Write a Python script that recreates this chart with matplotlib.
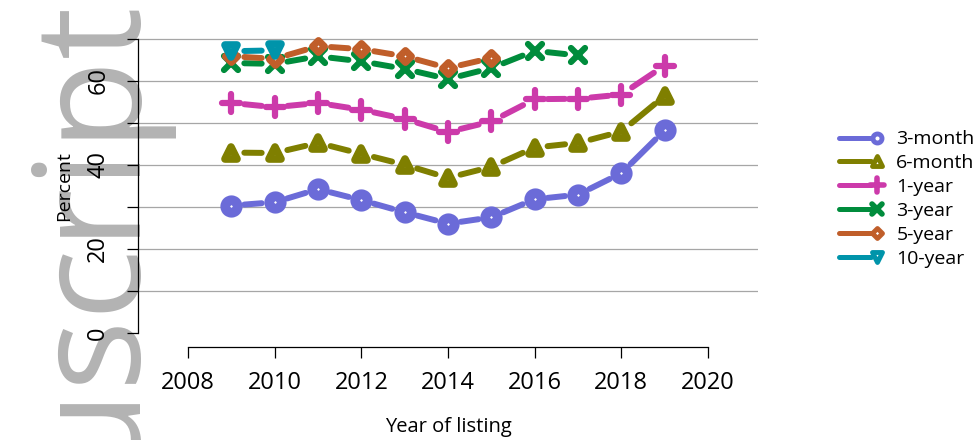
import numpy as np
import matplotlib
matplotlib.use("Agg")
import matplotlib.pyplot as plt
from matplotlib.lines import Line2D
from matplotlib.markers import MarkerStyle
from matplotlib.legend_handler import HandlerBase

plt.rcParams['font.family'] = ['Open Sans', 'DejaVu Sans']

# data (percent)
years = [2009, 2010, 2011, 2012, 2013, 2014, 2015, 2016, 2017, 2018, 2019]
m3 = [30.3, 31.1, 34.2, 31.6, 28.7, 26.0, 27.5, 31.8, 32.9, 38.0, 48.2]
m6 = [42.9, 42.8, 45.2, 42.6, 40.0, 36.9, 39.5, 44.1, 45.2, 47.9, 56.4]
y1 = [54.7, 53.7, 54.7, 53.1, 50.9, 47.8, 50.3, 55.6, 55.7, 56.7, 63.6]
y3 = [64.2, 64.0, 65.8, 64.6, 62.8, 60.4, 63.0, 67.1, 66.0]
y5 = [65.8, 65.2, 68.2, 67.5, 65.8, 63.0, 65.4]
y10 = [67.0, 67.2]
labels = ['3-month', '6-month', '1-year', '3-year', '5-year', '10-year']

series = [m3, m6, y1, y3, y5, y10]
colors = ['#6b6bd8', '#7f7f00', '#cc3aaa', '#008c3c', '#c05e2a', '#0094aa']
markers = ['o', '^', '+', 'x', 'D', 'v']
msizes = [9, 8, 13, 10, 6.5, 8]
mews = [7, 5.5, 4.5, 4.5, 5, 5.5]
leg_ms = [6.5, 6.5, 10, 7.5, 5.5, 6.5]
leg_mew = [3.5, 3.5, 4, 4, 3.5, 3.5]

W, H = 979, 440
fig = plt.figure(figsize=(W / 100, H / 100), dpi=100)

# watermark, behind everything
fig.text(127 / W, 1 + 9 / H, 'Manuscript', rotation=90, rotation_mode='anchor',
         ha='right', va='baseline', fontsize=107, color='#b3b3b3', zorder=-1)

ax = fig.add_axes([138 / W, (H - 347) / H, 620 / W, (347 - 26) / H])
ax.patch.set_alpha(0)
ax.set_xlim(2008 - 50 / 43.333, 2020 + 50 / 43.333)
ax.set_ylim(-3.33, 73)

for v in range(10, 80, 10):
    ax.axhline(v, color='#a6a6a6', lw=0.9, zorder=1)

for s in ['top', 'right']:
    ax.spines[s].set_visible(False)
ax.spines['left'].set_bounds(0, 70)
ax.spines['bottom'].set_bounds(2008, 2020)
for s in ['left', 'bottom']:
    ax.spines[s].set_linewidth(0.9)

ax.set_xticks(range(2008, 2021, 2))
ax.set_yticks(range(0, 71, 10))
ax.set_yticklabels([str(v) if v % 20 == 0 else '' for v in range(0, 71, 10)],
                   rotation=90, va='center')
ax.tick_params(axis='both', direction='out', length=8, width=0.9, labelsize=17)
ax.tick_params(axis='x', pad=9.5)
ax.tick_params(axis='y', pad=12)

ax.set_xlabel('Year of listing', fontsize=14.5)
ax.xaxis.set_label_coords(0.5, -0.218)
ax.set_ylabel('Percent', fontsize=14)
ax.yaxis.set_label_coords(-0.105, 0.5)

# lines with gaps around the points (like type="b")
gap = 13.0
tr = ax.transData
inv = tr.inverted()
handles = []
for vals, c, mk, ms, mew, lms, lmew, lab in zip(series, colors, markers, msizes, mews,
                                               leg_ms, leg_mew, labels):
    xs = np.array(years[:len(vals)], dtype=float)
    ys = np.array(vals, dtype=float)
    pts = tr.transform(np.column_stack([xs, ys]))
    segx, segy = [], []
    for i in range(len(pts) - 1):
        p0, p1 = pts[i], pts[i + 1]
        d = p1 - p0
        L = np.hypot(*d)
        if L <= 2 * gap:
            continue
        u = d / L
        a = inv.transform(p0 + u * gap)
        b = inv.transform(p1 - u * gap)
        segx += [a[0], b[0], np.nan]
        segy += [a[1], b[1], np.nan]
    ax.plot(segx, segy, color=c, lw=4.3, solid_capstyle='round', zorder=3)
    style = MarkerStyle(mk, joinstyle='round', capstyle='round')
    ax.plot(xs, ys, linestyle='none', marker=style, ms=ms, mew=mew,
            mec=c, mfc='white', zorder=4)
    handles.append(Line2D([], [], color=c, lw=3.6, solid_capstyle='round',
                          marker=MarkerStyle(mk, joinstyle='round', capstyle='round'),
                          ms=lms, mew=lmew, mec=c, mfc='white', label=lab))


class EndMarkerHandler(HandlerBase):
    def create_artists(self, legend, orig_handle, xdescent, ydescent,
                       width, height, fontsize, trans):
        y = height / 2 - ydescent
        line = Line2D([-xdescent, -xdescent + width - 4], [y, y])
        self.update_prop(line, orig_handle, legend)
        line.set_marker('None')
        mark = Line2D([-xdescent + width], [y])
        self.update_prop(mark, orig_handle, legend)
        mark.set_linestyle('None')
        line.set_transform(trans)
        mark.set_transform(trans)
        return [line, mark]


fig.legend(handles=handles, loc='center left', bbox_to_anchor=(839 / W, 1 - 199 / H),
           frameon=False, fontsize=14, handlelength=1.95, handletextpad=1.0,
           labelspacing=0.3, borderpad=0, borderaxespad=0,
           handler_map={h: EndMarkerHandler() for h in handles})

fig.savefig('out.png', dpi=100)
